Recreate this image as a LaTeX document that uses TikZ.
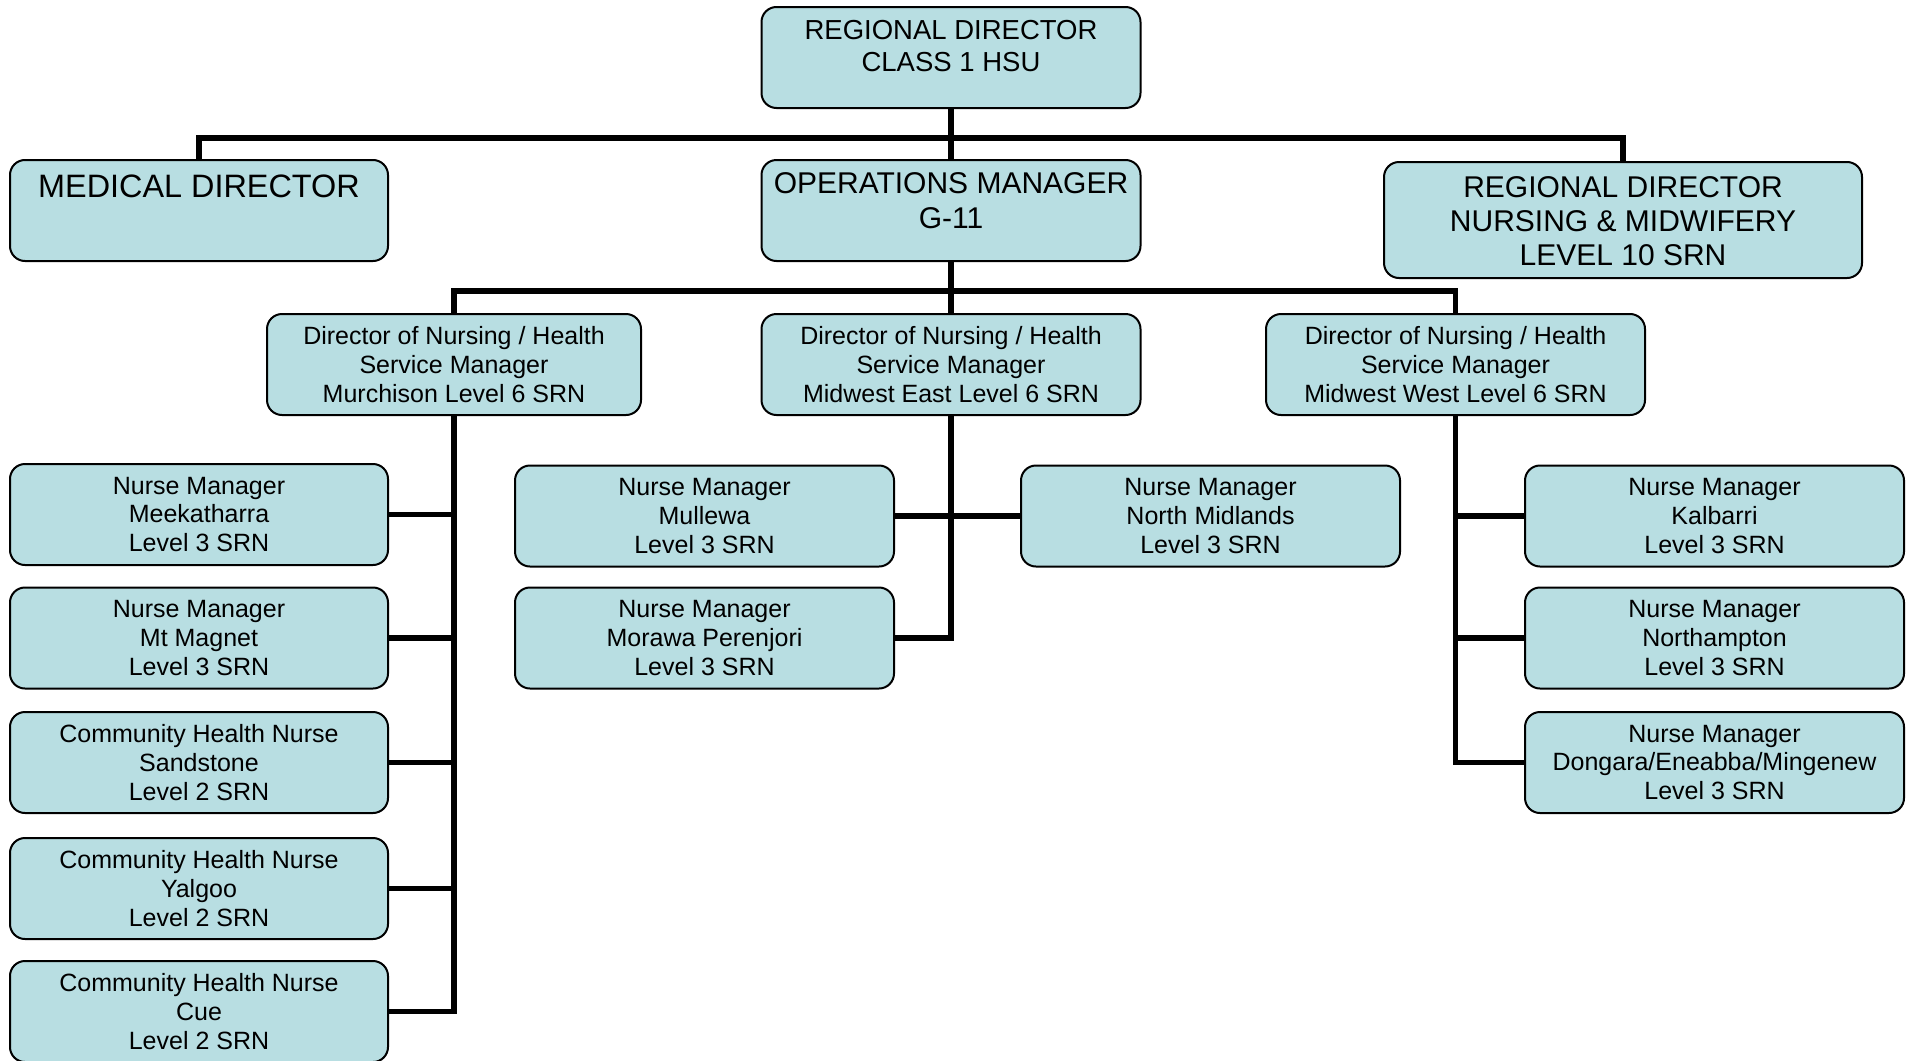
\documentclass[tikz,border=0pt]{standalone}
\usepackage{fontspec}
\setmainfont{Liberation Sans}
\definecolor{boxfill}{RGB}{184,222,226}
\begin{document}
\begin{tikzpicture}[x=0.5pt,y=-0.5pt,
  box/.style={draw=black, line width=1pt, fill=boxfill, rounded corners=7.5pt,
    inner sep=0pt, align=center, minimum width=189.5pt, minimum height=50.5pt},
  small/.style={font=\fontsize{12.5pt}{14.35pt}\selectfont},
  boxtitle/.style={inner sep=0pt, align=center, anchor=north},
  link/.style={line width=2.9pt, draw=black}
]
\useasboundingbox (0,0) rectangle (1915,1060);

% --- executive level ---
\node[box] (top) at (951,57.5) {};
\node[boxtitle, font=\fontsize{13.75pt}{16pt}\selectfont] (top-t) at ([yshift=-6.8pt]top.north)
  {REGIONAL DIRECTOR\\CLASS 1 HSU};

\node[box, minimum width=189pt] (med) at (199,210.5) {};
\node[boxtitle, font=\fontsize{16.2pt}{19pt}\selectfont] (med-t) at ([yshift=-7.8pt]med.north)
  {MEDICAL DIRECTOR};

\node[box] (ops) at (951,210.5) {};
\node[boxtitle, font=\fontsize{15pt}{17.5pt}\selectfont] (ops-t) at ([yshift=-6.8pt]ops.north)
  {OPERATIONS MANAGER\\G-11};

\node[box, minimum width=239pt, minimum height=58pt] (rdnm) at (1623,220) {};
\node[boxtitle, font=\fontsize{15pt}{17pt}\selectfont] (rdnm-t) at ([yshift=-7.4pt]rdnm.north)
  {REGIONAL DIRECTOR\\NURSING \& MIDWIFERY\\LEVEL 10 SRN};

% --- directors of nursing ---
\node[box, small, minimum width=187pt] (murch) at (454,364.5)
  {Director of Nursing / Health\\Service Manager\\Murchison Level 6 SRN};
\node[box, small] (mwe) at (951,364.5)
  {Director of Nursing / Health\\Service Manager\\Midwest East Level 6 SRN};
\node[box, small] (mww) at (1455.5,364.5)
  {Director of Nursing / Health\\Service Manager\\Midwest West Level 6 SRN};

% --- Murchison sites ---
\node[box, small, minimum width=189pt] (meek) at (199,514.5)
  {Nurse Manager\\Meekatharra\\Level 3 SRN};
\node[box, small, minimum width=189pt] (mtm) at (199,638)
  {Nurse Manager\\Mt Magnet\\Level 3 SRN};
\node[box, small, minimum width=189pt] (sand) at (199,762.5)
  {Community Health Nurse\\Sandstone\\Level 2 SRN};
\node[box, small, minimum width=189pt] (yalg) at (199,888.5)
  {Community Health Nurse\\Yalgoo\\Level 2 SRN};
\node[box, small, minimum width=189pt] (cue) at (199,1011.5)
  {Community Health Nurse\\Cue\\Level 2 SRN};

% --- Midwest East sites ---
\node[box, small] (mull) at (704.5,516)
  {Nurse Manager\\Mullewa\\Level 3 SRN};
\node[box, small] (nmid) at (1210.5,516)
  {Nurse Manager\\North Midlands\\Level 3 SRN};
\node[box, small] (mora) at (704.5,638)
  {Nurse Manager\\Morawa Perenjori\\Level 3 SRN};

% --- Midwest West sites ---
\node[box, small] (kalb) at (1714.5,516)
  {Nurse Manager\\Kalbarri\\Level 3 SRN};
\node[box, small] (nth) at (1714.5,638)
  {Nurse Manager\\Northampton\\Level 3 SRN};
\node[box, small] (dong) at (1714.5,762.5)
  {Nurse Manager\\Dongara/Eneabba/Mingenew\\Level 3 SRN};

% --- reporting lines ---
\coordinate (j1) at (951,138);
\coordinate (j2) at (951,291);
\draw[link] (top.south) -- (ops.north);
\draw[link] (med.north) |- (j1) -| (rdnm.north);
\draw[link] (ops.south) -- (mwe.north);
\draw[link] (murch.north) |- (j2) -| (mww.north);

\draw[link] (murch.south) |- (cue.east);
\foreach \n in {meek,mtm,sand,yalg}
  \draw[link] (\n.east) -- (\n.east -| murch.south);

\draw[link] (mwe.south) |- (mora.east);
\draw[link] (mull.east) -- (nmid.west);

\draw[link] (mww.south) |- (dong.west);
\foreach \n in {kalb,nth}
  \draw[link] (\n.west) -- (\n.west -| mww.south);
\end{tikzpicture}
\end{document}
